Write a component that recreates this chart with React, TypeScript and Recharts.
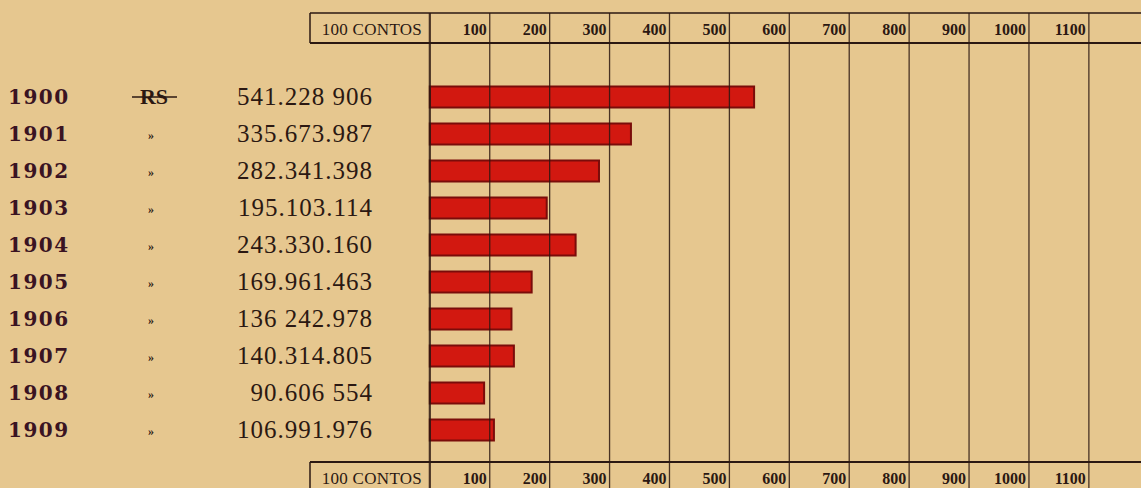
import {
  Bar,
  BarChart,
  ReferenceLine,
  XAxis,
  YAxis,
} from "recharts";

// rows of the table
const years = [1900, 1901, 1902, 1903, 1904, 1905, 1906, 1907, 1908, 1909];
// amounts in contos (1 conto = 1.000.000 réis)
const amountsContos = [
  541.228906, 335.673987, 282.341398, 195.103114, 243.33016, 169.961463,
  136.242978, 140.314805, 90.606554, 106.991976,
];
const amountLabels = [
  "541.228 906",
  "335.673.987",
  "282.341.398",
  "195.103.114",
  "243.330.160",
  "169.961.463",
  "136 242.978",
  "140.314.805",
  "90.606 554",
  "106.991.976",
];
const currencyMarks = ["RS", "»", "»", "»", "»", "»", "»", "»", "»", "»"];

// scale header
const unitLabel = "100 CONTOS";
const unitCellCenter = -100;
const unitCellStart = -200;
const scaleTicks = [100, 200, 300, 400, 500, 600, 700, 800, 900, 1000, 1100];
const gridValues = [0, ...scaleTicks];
const xMax = 1187;

// vertical extent of the table frame, in row (year) units
const yMin = 1897.73;
const yMax = 1910.54;
const headerTop = 1897.73;
const headerBottom = 1898.54;
const footerTop = 1909.865;
const frameEnd = 1910.6;

const data = years.map((year, i) => ({ year, contos: amountsContos[i] }));

const INK = "#2b1812";
const BG = "#e6c78f";

function RowLabel(props: any) {
  const { y, payload } = props;
  const i = years.indexOf(payload.value);
  if (i < 0) return null;
  const mark = currencyMarks[i];
  return (
    <g>
      <text
        x={8}
        y={y + 7}
        fontFamily="DejaVu Serif"
        fontWeight="bold"
        fontSize={20}
        letterSpacing={1.5}
        fill="#3a1322"
      >
        {payload.value}
      </text>
      {mark === "RS" ? (
        <g>
          <text
            x={154}
            y={y + 7}
            textAnchor="middle"
            fontFamily="Liberation Serif"
            fontWeight="bold"
            fontSize={22}
            fill={INK}
          >
            {mark}
          </text>
          <line x1={132} x2={177} y1={y} y2={y} stroke={INK} strokeWidth={1.6} />
        </g>
      ) : (
        <text
          x={151}
          y={y + 5}
          textAnchor="middle"
          fontFamily="Liberation Serif"
          fontWeight="bold"
          fontSize={12}
          fill={INK}
        >
          {mark}
        </text>
      )}
      <text
        x={373}
        y={y + 8}
        textAnchor="end"
        fontFamily="Liberation Serif"
        fontSize={25}
        letterSpacing={1}
        fill={INK}
      >
        {amountLabels[i]}
      </text>
    </g>
  );
}

function ScaleLabel(baseline: number) {
  return (props: any) => {
    const { x, payload } = props;
    if (payload.value === unitCellCenter) {
      return (
        <text
          x={x + 2}
          y={baseline}
          textAnchor="middle"
          fontFamily="Liberation Serif"
          fontSize={17}
          letterSpacing={0.3}
          fill={INK}
        >
          {unitLabel}
        </text>
      );
    }
    return (
      <text
        x={x - 3}
        y={baseline}
        textAnchor="end"
        fontFamily="Liberation Serif"
        fontWeight="bold"
        fontSize={16}
        fill={INK}
      >
        {payload.value}
      </text>
    );
  };
}

export default function App() {
  return (
    <div
      style={{
        position: "absolute",
        left: 0,
        top: 0,
        width: 1141,
        height: 488,
        background: BG,
      }}
    >
      <BarChart
        width={1141}
        height={488}
        data={data}
        layout="vertical"
        margin={{ top: 0, right: 0, bottom: 0, left: 0 }}
      >
        <XAxis
          xAxisId="top"
          orientation="top"
          type="number"
          domain={[unitCellStart, xMax]}
          ticks={[unitCellCenter, ...scaleTicks]}
          interval={0}
          height={13}
          axisLine={false}
          tickLine={false}
          tick={ScaleLabel(35)}
          allowDataOverflow
        />
        <XAxis
          xAxisId="bottom"
          orientation="bottom"
          type="number"
          domain={[unitCellStart, xMax]}
          ticks={[unitCellCenter, ...scaleTicks]}
          interval={0}
          height={1}
          axisLine={false}
          tickLine={false}
          tick={ScaleLabel(484)}
          allowDataOverflow
        />
        <YAxis
          dataKey="year"
          type="number"
          domain={[yMin, yMax]}
          ticks={years}
          interval={0}
          width={310}
          axisLine={false}
          tickLine={false}
          tick={RowLabel}
          allowDataOverflow
        />
        <Bar
          xAxisId="top"
          dataKey="contos"
          barSize={21}
          fill="#d00d09"
          fillOpacity={0.94}
          stroke="#7a0c0a"
          strokeWidth={2}
          isAnimationActive={false}
        />
        {gridValues.map((v) => (
          <ReferenceLine
            key={v}
            xAxisId="top"
            segment={[
              { x: v, y: headerTop },
              { x: v, y: frameEnd },
            ]}
            stroke={INK}
            strokeWidth={v === 0 ? 2.2 : 1.3}
            strokeOpacity={0.85}
            ifOverflow="visible"
          />
        ))}
        {[
          [headerTop, headerBottom],
          [footerTop, frameEnd],
        ].map(([a, b]) => (
          <ReferenceLine
            key={`u${a}`}
            xAxisId="top"
            segment={[
              { x: unitCellStart, y: a },
              { x: unitCellStart, y: b },
            ]}
            stroke={INK}
            strokeWidth={1.5}
            ifOverflow="visible"
          />
        ))}
        {[headerTop, headerBottom, footerTop].map((yv) => (
          <ReferenceLine
            key={`h${yv}`}
            xAxisId="top"
            segment={[
              { x: unitCellStart, y: yv },
              { x: xMax, y: yv },
            ]}
            stroke={INK}
            strokeWidth={yv === headerTop ? 1.5 : 2}
            ifOverflow="visible"
          />
        ))}
      </BarChart>
    </div>
  );
}
